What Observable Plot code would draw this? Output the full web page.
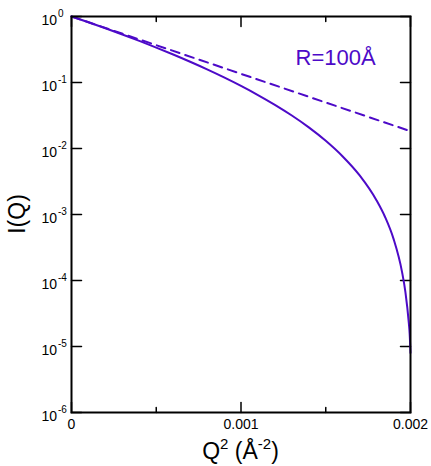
<!DOCTYPE html>
<html>
<head>
<meta charset="utf-8">
<script src="https://cdn.jsdelivr.net/npm/d3@7"></script>
<script src="https://cdn.jsdelivr.net/npm/@observablehq/plot@0.6"></script>
<style>
  body { margin: 0; background: #fff; }
  #chart svg { font-family: "Liberation Sans", Arial, Helvetica, sans-serif; background: #fff; }
</style>
</head>
<body>
<div id="chart"></div>
<script>
// Q^2 (Å^-2) and I(Q) for a sphere of R = 100 Å (solid curve)
const sphereQ2 = [0, 0.0001, 0.0002, 0.0003, 0.0004, 0.0005, 0.0006, 0.0007, 0.0008, 0.0009,
  0.0010, 0.0011, 0.0012, 0.0013, 0.0014, 0.0015, 0.0016, 0.0017, 0.0018, 0.00185,
  0.0019, 0.00195, 0.00197, 0.00199, 0.001995, 0.002];
const sphereI = [1, 0.8163, 0.6622, 0.5335, 0.4265, 0.3381, 0.2654, 0.2061, 0.1581, 0.1195,
  0.0888, 0.0646, 0.0459, 0.0316, 0.0209, 0.01308, 0.00758, 0.00391, 0.00163, 0.000916,
  0.000427, 0.000135, 0.0000666, 0.0000228, 0.0000156, 0.0000080];
// Guinier approximation (dashed line)
const guinierQ2 = [0, 0.002];
const guinierI = [1, 0.0183];

const xMajor = [0, 0.001, 0.002];
const xMinor = [0.0005, 0.0015];
const xTickLabels = ["0", "0.001", "0.002"];
const yDecades = [1e0, 1e-1, 1e-2, 1e-3, 1e-4, 1e-5, 1e-6];
const yExponents = ["0", "-1", "-2", "-3", "-4", "-5", "-6"];
const annotation = "R=100Å";

const purple = "#4d0ac8";
const sphere = sphereQ2.map((q, i) => ({q, I: sphereI[i]}));
const guinier = guinierQ2.map((q, i) => ({q, I: guinierI[i]}));

const tickShape = {draw(ctx, l) { ctx.moveTo(0, 0); ctx.lineTo(0, -l); }};
const ticks = (data, frameAnchor, rotate, length, ch) => Plot.vector(data, {
  [ch]: d => d, frameAnchor, rotate, length, anchor: "start", shape: tickShape,
  stroke: "black", strokeWidth: 1.5
});

const chart = Plot.plot({
  width: 431,
  height: 466,
  marginTop: 16,
  marginBottom: 54,
  marginLeft: 71,
  marginRight: 21,
  x: {domain: [0, 0.002], axis: null},
  y: {type: "log", domain: [1e-6, 1], axis: null},
  marks: [
    // ticks (inward on all four sides)
    ticks(xMajor, "bottom", 0, 10, "x"),
    ticks(xMinor, "bottom", 0, 5, "x"),
    ticks(xMajor, "top", 180, 10, "x"),
    ticks(xMinor, "top", 180, 5, "x"),
    ticks(yDecades, "left", 90, 10, "y"),
    ticks(yDecades, "right", 270, 10, "y"),
    // tick labels
    Plot.text(xMajor, {x: d => d, frameAnchor: "bottom", text: (d, i) => xTickLabels[i],
      dy: 12, fontSize: 14, textAnchor: "middle", lineAnchor: "middle", fill: "black"}),
    Plot.text(yDecades, {y: d => d, frameAnchor: "left", text: () => "10",
      dx: -14.5, dy: 4, fontSize: 14, textAnchor: "end", lineAnchor: "middle", fill: "black"}),
    Plot.text(yDecades, {y: d => d, frameAnchor: "left", text: (d, i) => yExponents[i],
      dx: -13.5, dy: -3, fontSize: 10, textAnchor: "start", lineAnchor: "middle", fill: "black"}),
    // curves
    Plot.line(guinier, {x: "q", y: "I", stroke: purple, strokeWidth: 2, strokeDasharray: "9,6"}),
    Plot.line(sphere, {x: "q", y: "I", stroke: purple, strokeWidth: 2, curve: "monotone-x"}),
    Plot.text([annotation], {frameAnchor: "top-left", dx: 224, dy: 41.5, text: d => d,
      fontSize: 22, fill: purple, textAnchor: "start", lineAnchor: "middle"}),
    Plot.frame({stroke: "black", strokeWidth: 2})
  ]
});

document.getElementById("chart").appendChild(chart);

// axis titles with superscripts
const svg = d3.select(chart);
const xs = chart.scale("x");
const xMid = (xs.apply(0) + xs.apply(0.002)) / 2;
const xt = svg.append("text")
  .attr("x", xMid).attr("y", 459)
  .attr("text-anchor", "middle").attr("font-size", 23).attr("fill", "black");
xt.append("tspan").text("Q");
xt.append("tspan").attr("dy", -10).attr("font-size", 15).text("2");
xt.append("tspan").attr("dy", 10).text(" (Å");
xt.append("tspan").attr("dy", -10).attr("font-size", 15).text("-2");
xt.append("tspan").attr("dy", 10).text(")");

svg.append("text")
  .attr("transform", "translate(25,214) rotate(-90)")
  .attr("text-anchor", "middle").attr("font-size", 23).attr("fill", "black")
  .text("I(Q)");
</script>
</body>
</html>
